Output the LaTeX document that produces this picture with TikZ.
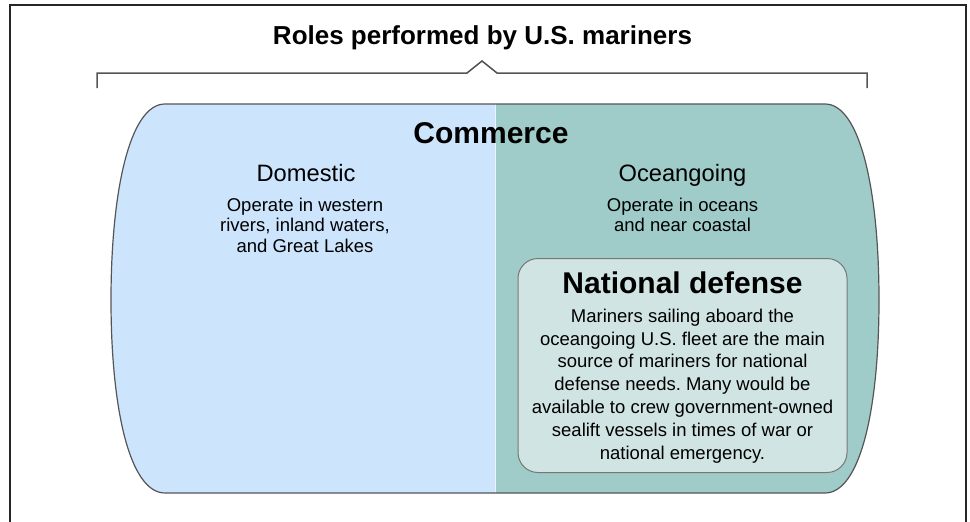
\documentclass[tikz,border=0pt]{standalone}
\usepackage{fontspec}
\setmainfont{Liberation Sans}
\frenchspacing
\definecolor{domblue}{RGB}{204,228,252}
\definecolor{oceanteal}{RGB}{159,203,200}
\definecolor{defgreen}{RGB}{208,229,227}
\definecolor{edgegray}{RGB}{85,85,85}
\tikzset{
  heading/.style={font=\bfseries\fontsize{26}{30}\selectfont},
  bighead/.style={font=\bfseries\fontsize{30}{34}\selectfont},
  subhead/.style={font=\fontsize{23.7}{27}\selectfont},
  bodytext/.style={font=\fontsize{18.5}{20.5}\selectfont, align=center},
  boxtext/.style={font=\fontsize{18.5}{22.8}\selectfont, align=center},
  defbox/.style={draw=edgegray!80, fill=defgreen, rounded corners=20pt,
    line width=1pt, minimum width=329pt, minimum height=214pt}
}
\begin{document}
\begin{tikzpicture}[x=1pt,y=-1pt]
    \useasboundingbox (0,0) rectangle (970,522);
    % frame and bracket
    \draw[line width=1.5pt, black!85] (10,522) -- (10,5) -- (966,5) -- (966,522);
    \draw[line width=1.5pt, edgegray] (97,88) -- (97,73) -- (467,73) -- (482,61) -- (497,73) -- (867,73) -- (867,88);

    % the two halves of the barrel
    \fill[domblue] (495,104) -- (165,104) .. controls (130,104) and (111,190) .. (111,300)
        .. controls (111,410) and (130,493) .. (165,493) -- (495,493) -- cycle;
    \fill[oceanteal] (495,104) -- (825,104) .. controls (860,104) and (879,190) .. (879,300)
        .. controls (879,410) and (860,493) .. (825,493) -- (495,493) -- cycle;
    \draw[white!60!domblue, line width=1pt] (495,104) -- (495,493);
    \draw[edgegray, line width=1.2pt] (165,104) -- (825,104) .. controls (860,104) and (879,190) .. (879,300)
        .. controls (879,410) and (860,493) .. (825,493) -- (165,493)
        .. controls (130,493) and (111,410) .. (111,300) .. controls (111,190) and (130,104) .. cycle;

    \node[heading, anchor=base] (title) at (482.5,44.3) {Roles performed by U.S. mariners};
    \node[bighead, anchor=base] (commerce) at (491,143.3) {Commerce};

    \node[subhead, anchor=base] (domestic) at (306,181.7) {Domestic};
    \node[bodytext] (domtext) at (305,225) {Operate in western\\rivers, inland waters,\\and Great Lakes};

    \node[subhead, anchor=base] (ocean) at (682.5,181.7) {Oceangoing};
    \node[bodytext] (oceantext) at (682.5,215) {Operate in oceans\\and near coastal};

    \node[defbox] (defbox) at (682.5,365.5) {};
    \node[bighead, anchor=base] (deftitle) at (682.5,293.3) {National defense};
    \node[boxtext] (deftext) at (682.5,386) {Mariners sailing aboard the\\oceangoing U.S. fleet are the main\\source of mariners for national\\defense needs. Many would be\\available to crew government-owned\\sealift vessels in times of war or\\national emergency.};
\end{tikzpicture}
\end{document}
